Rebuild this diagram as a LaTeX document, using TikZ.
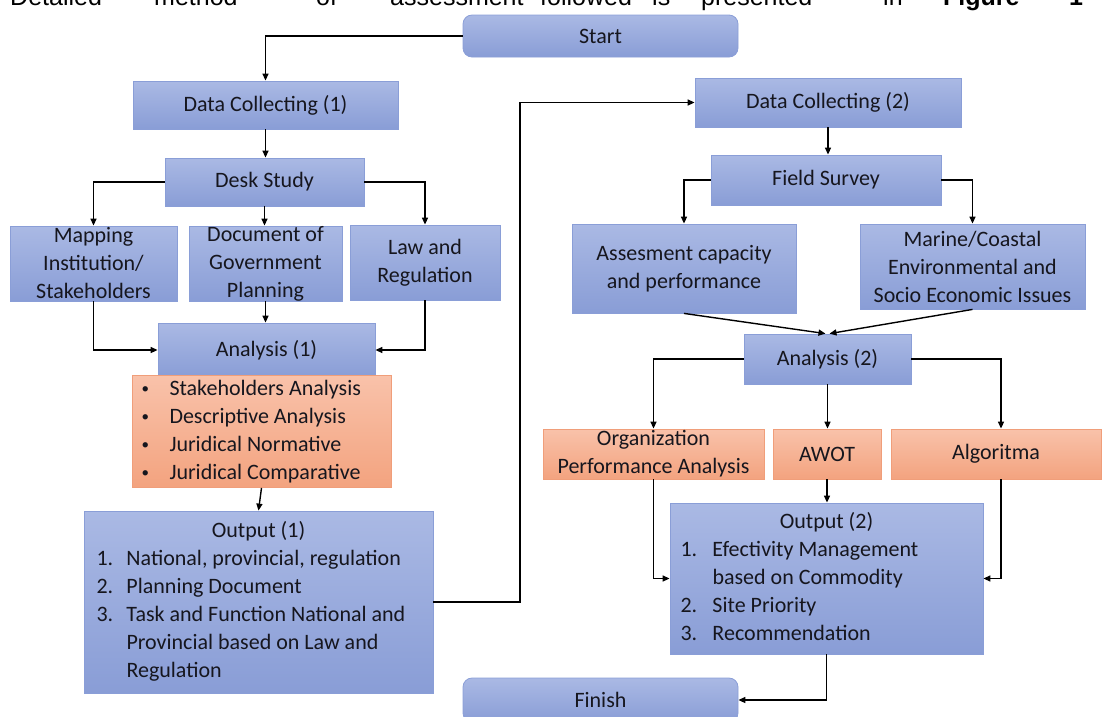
\documentclass[tikz,border=0pt]{standalone}
\usepackage{fontspec}
\usepackage{array}
\setmainfont{Carlito}
\newfontfamily\bodyfont{Liberation Sans}
\usetikzlibrary{arrows.meta}

\definecolor{bluetop}{RGB}{170,185,228}
\definecolor{bluebot}{RGB}{137,157,214}
\definecolor{blueline}{RGB}{138,158,215}
\definecolor{orgtop}{RGB}{249,194,170}
\definecolor{orgbot}{RGB}{243,163,127}
\definecolor{orgline}{RGB}{240,158,122}
\definecolor{ink}{RGB}{22,22,30}

\newcommand{\dotmark}{\raisebox{1.5pt}{\fontsize{15}{15}\selectfont\textbullet}}

\tikzset{
  box/.style={draw=blueline, line width=0.8pt, top color=bluetop, bottom color=bluebot,
    inner sep=0pt, align=center, text=ink, font=\fontsize{22}{28}\selectfont},
  obox/.style={box, draw=orgline, top color=orgtop, bottom color=orgbot},
  term/.style={box, rounded corners=9pt},
  link/.style={line width=1.4pt, -{Triangle[length=7pt,width=6pt]}},
  word/.style={anchor=base west, inner sep=0pt, text=black,
    font=\bodyfont\fontsize{25}{27}\selectfont},
}

\begin{document}
\begin{tikzpicture}[x=1pt,y=-1pt]
\useasboundingbox (0,0) rectangle (1102,716);
\clip (0,0) rectangle (1102,716);

% running text line above the chart
\node[word] (w1) at (10,5.5) {Detailed};
\node[word] (w2) at (154,5.5) {method};
\node[word] (w3) at (316,5.5) {of};
\node[word] (w4) at (390,5.5) {assessment};
\node[word] (w5) at (540,5.5) {followed};
\node[word] (w6) at (652,5.5) {is};
\node[word] (w7) at (701,5.5) {presented};
\node[word] (w8) at (883,5.5) {in};
\node[word] (w9) at (943,5.5) {\bfseries Figure};
\node[word] (w10) at (1069,5.5) {\bfseries 1};

% left branch
\node[term, minimum width=275pt, minimum height=42pt] (start) at (600.5,36) {Start};
\node[box, minimum width=265pt, minimum height=48pt] (dc1) at (265.5,105) {Data Collecting (1)};
\node[box, minimum width=199pt, minimum height=48pt] (desk) at (264.5,182) {Desk Study};
\node[box, minimum width=167pt, minimum height=75pt] (map) at (93.5,263.5) {Mapping\\Institution/\\Stakeholders};
\node[box, minimum width=153pt, minimum height=75pt] (doc) at (265.5,263.5) {Document of\\Government\\Planning};
\node[box, minimum width=150pt, minimum height=75pt] (law) at (425,262.5) {Law and\\Regulation};
\node[box, minimum width=217pt, minimum height=54pt] (an1) at (266.5,350) {Analysis (1)};
\node[obox, minimum width=259pt, minimum height=105pt] (bul) at (261.5,431.5) {%
  \begin{tabular}{@{}p{28pt}@{}p{212pt}@{}}
  \dotmark & Stakeholders Analysis\\
  \dotmark & Descriptive Analysis\\
  \dotmark & Juridical Normative\\
  \dotmark & Juridical Comparative
  \end{tabular}};
\node[box, minimum width=349pt, minimum height=182pt] (out1) at (258.5,602) {%
  \begin{tabular}{@{}p{30pt}@{}p{294pt}@{}}
  \multicolumn{2}{c}{Output (1)}\\
  1. & National, provincial, regulation\\
  2. & Planning Document\\
  3. & Task and Function National and\\
     & Provincial based on Law and\\
     & Regulation
  \end{tabular}};

% right branch
\node[box, minimum width=266pt, minimum height=49pt] (dc2) at (828,102.5) {Data Collecting (2)};
\node[box, minimum width=230pt, minimum height=50pt] (fs) at (826,180) {Field Survey};
\node[box, minimum width=224pt, minimum height=89pt] (ass) at (684,268.5) {Assesment capacity\\and performance};
\node[box, minimum width=225pt, minimum height=85pt] (mar) at (972.5,266.5) {Marine/Coastal\\Environmental and\\Socio Economic Issues};
\node[box, minimum width=167pt, minimum height=50pt] (an2) at (827.5,359) {Analysis (2)};
\node[obox, minimum width=221pt, minimum height=50pt] (org) at (653.5,454) {Organization\\Performance Analysis};
\node[obox, minimum width=108pt, minimum height=50pt] (awot) at (827,454) {AWOT};
\node[obox, minimum width=210pt, minimum height=50pt] (alg) at (996,454) {Algoritma};
\node[box, minimum width=313pt, minimum height=151pt] (out2) at (826.5,578.5) {%
  \begin{tabular}{@{}p{32pt}@{}p{260pt}@{}}
  \multicolumn{2}{c}{Output (2)}\\
  1. & Efectivity Management\\
     & based on Commodity\\
  2. & Site Priority\\
  3. & Recommendation
  \end{tabular}};
\node[term, minimum width=275pt, minimum height=44pt] (finish) at (600.5,700) {Finish};

% connectors
\draw[link] (start.west) -| (dc1.north);
\draw[link] (dc1.south) -- (dc1.south |- desk.north);
\draw[link] (desk.west) -| (map.north);
\draw[link] (desk.south) -- (desk.south |- doc.north);
\draw[link] (desk.east) -| (law.north);
\draw[link] (map.south) |- (an1.west);
\draw[link] (doc.south) -- (doc.south |- an1.north);
\draw[link] (law.south) |- (an1.east);
\draw[link] (bul.south) -- (out1.north);
\coordinate (jump) at (520,0);
\draw[link] (out1.east) -- (out1.east -| jump) |- (dc2.west);
\draw[link] (dc2.south) -- (dc2.south |- fs.north);
\draw[link] (fs.west) -| (ass.north);
\draw[link] (fs.east) -| (mar.north);
\draw[link] (ass.south) -- ([xshift=-2pt]an2.north);
\draw[link] (mar.south) -- ([xshift=2pt]an2.north);
\draw[link] (an2.west) -| (org.north);
\draw[link] (an2.south) -- (an2.south |- awot.north);
\draw[link] (an2.east) -| ([xshift=5pt]alg.north);
\draw[link] (org.south) |- (out2.west);
\draw[link] (awot.south) -- (awot.south |- out2.north);
\draw[link] ([xshift=5pt]alg.south) |- (out2.east);
\draw[link] (out2.south) |- (finish.east);
\end{tikzpicture}
\end{document}
